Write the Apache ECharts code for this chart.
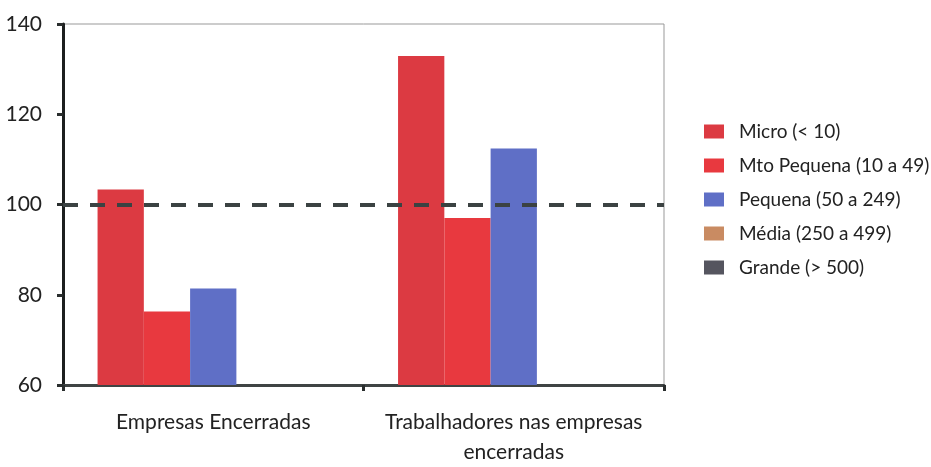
<!DOCTYPE html>
<html>
<head>
<meta charset="utf-8">
<script src="https://cdn.jsdelivr.net/npm/echarts@6/dist/echarts.min.js"></script>
<style>
  html, body { margin: 0; padding: 0; background: #ffffff; }
  #chart { width: 931px; height: 467px; }
</style>
</head>
<body>
<div id="chart"></div>
<script>
// Categories and index values (base = 100)
const categories = ['Empresas Encerradas', 'Trabalhadores nas empresas\nencerradas'];
const seriesNames = ['Micro (< 10)', 'Mto Pequena (10 a 49)', 'Pequena (50 a 249)', 'Média (250 a 499)', 'Grande (> 500)'];
const micro = [103.3, 132.9];
const mtoPequena = [76.3, 97.0];
const pequena = [81.4, 112.4];
const media = [null, null];
const grande = [null, null];
const referenceLine = 100;
const yTicks = { min: 60, max: 140, interval: 20 };

const colors = ['#dc3a42', '#e8393f', '#5f6fc6', '#c98b62', '#55555f'];
const values = [micro, mtoPequena, pequena, media, grande];

const chart = echarts.init(document.getElementById('chart'));
const fontFamily = '"Lato", "Open Sans", sans-serif';

const series = values.map((data, i) => ({
  name: seriesNames[i],
  type: 'bar',
  data: data,
  barGap: '0%',
  barCategoryGap: '23%',
  itemStyle: { color: colors[i] },
  emphasis: { disabled: true }
}));

series[0].markLine = {
  silent: true,
  symbol: ['none', 'none'],
  label: { show: false },
  lineStyle: { color: '#3b4242', width: 4, type: [15, 12] },
  data: [{ yAxis: referenceLine }]
};

chart.setOption({
  animation: false,
  color: colors,
  grid: {
    left: 63, right: 267, top: 24, bottom: 80,
    show: true, borderColor: '#999999', borderWidth: 1, backgroundColor: 'transparent'
  },
  legend: {
    orient: 'vertical',
    left: 699,
    top: 117,
    itemWidth: 20,
    itemHeight: 14,
    itemGap: 15,
    icon: 'rect',
    textStyle: { fontFamily: fontFamily, fontSize: 19, color: '#222222', padding: [0, 0, 0, 10] },
    data: seriesNames
  },
  xAxis: {
    type: 'category',
    data: categories,
    axisLine: { lineStyle: { color: '#3f4444', width: 3 } },
    axisTick: { show: true, length: 6, lineStyle: { color: '#2a2e2e', width: 3 } },
    axisLabel: {
      fontFamily: fontFamily, fontSize: 21, color: '#222222',
      margin: 22, lineHeight: 30, interval: 0
    }
  },
  yAxis: {
    type: 'value',
    min: yTicks.min,
    max: yTicks.max,
    interval: yTicks.interval,
    splitLine: { show: false },
    axisLine: { show: true, lineStyle: { color: '#1c1f1f', width: 3 } },
    axisTick: { show: true, length: 6, lineStyle: { color: '#2a2e2e', width: 3 } },
    axisLabel: { fontFamily: fontFamily, fontSize: 21, color: '#222222', margin: 21 }
  },
  series: series
});
</script>
</body>
</html>
